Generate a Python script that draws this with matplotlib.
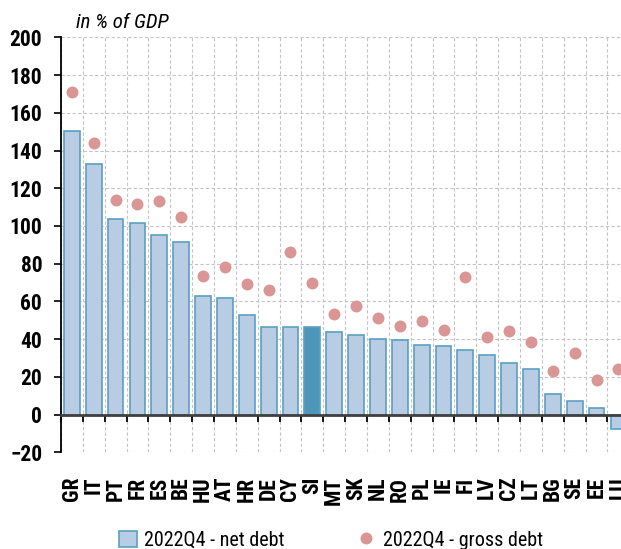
import matplotlib
matplotlib.use("Agg")
import matplotlib.pyplot as plt
from matplotlib.lines import Line2D
from matplotlib.patches import Patch
import numpy as np

countries = ["GR", "IT", "PT", "FR", "ES", "BE", "HU", "AT", "HR", "DE", "CY", "SI", "MT",
             "SK", "NL", "RO", "PL", "IE", "FI", "LV", "CZ", "LT", "BG", "SE", "EE", "LU"]
net_debt = [150.3, 132.7, 103.5, 101.4, 95.4, 91.4, 63.0, 62.0, 53.0, 46.5, 46.5, 46.6, 43.7,
            42.4, 40.0, 39.4, 37.0, 36.5, 34.5, 31.5, 27.5, 24.0, 11.2, 7.0, 3.4, -7.7]
gross_debt = [171.2, 144.1, 113.6, 111.7, 113.2, 104.9, 73.5, 78.5, 69.0, 66.0, 86.2, 70.0, 53.3,
              57.6, 51.0, 47.0, 49.5, 45.0, 73.0, 41.0, 44.5, 38.5, 23.0, 32.7, 18.2, 24.4]
highlight = "SI"

bar_fill = "#b8cce4"
bar_edge = "#5b9fc2"
hl_fill = "#4f97b8"
dot_color = "#d99694"

plt.rcParams["font.family"] = ["Roboto Condensed", "DejaVu Sans"]

fig = plt.figure(figsize=(6.21, 5.49), dpi=100)
ax = fig.add_axes([0.0982, 0.176, 1.0 - 0.0982, 0.756])

x = np.arange(len(countries))
fills = [hl_fill if c == highlight else bar_fill for c in countries]
ax.bar(x, net_debt, width=0.72, color=fills, edgecolor=bar_edge, linewidth=1.2, zorder=3)
ax.plot(x, gross_debt, "o", color=dot_color, markersize=8.6, markeredgewidth=0, zorder=4)

# x axis sits on zero, with small ticks between countries
ax.spines["bottom"].set_position(("data", 0))
ax.spines["bottom"].set_color("#404040")
ax.spines["bottom"].set_linewidth(2)
ax.spines["bottom"].set_zorder(5)
ax.set_xticks(np.arange(-0.5, len(countries), 1))
ax.tick_params(axis="x", length=5, width=1.3, color="black", labelbottom=False)

# country names below the plot area
names_axis = ax.secondary_xaxis("bottom")
names_axis.spines["bottom"].set_visible(False)
names_axis.set_xticks(x)
names_axis.set_xticklabels(countries, rotation=90, fontsize=15.5, fontweight="bold")
names_axis.tick_params(length=0, pad=17.5)

ax.set_yticks(np.arange(-20, 201, 20))
ax.tick_params(axis="y", length=5, width=1.2, labelsize=15.5, pad=8.5)
for lab in ax.get_yticklabels():
    lab.set_fontweight("bold")

ax.set_xlim(-0.5, 25.12)
ax.set_ylim(-20, 200)

ax.grid(True, axis="both", color="#c4c4c4", linestyle=(0, (3, 2)), linewidth=0.8, zorder=0)

for side in ["top", "right"]:
    ax.spines[side].set_visible(False)
ax.spines["left"].set_linewidth(1.3)

ax.text(0.026, 1.012, "in % of GDP", transform=ax.transAxes, fontsize=15,
        fontstyle="italic", ha="left", va="bottom")

handles = [
    Patch(facecolor=bar_fill, edgecolor=bar_edge, linewidth=1.2, label="2022Q4 - net debt"),
    Line2D([], [], marker="o", linestyle="none", color=dot_color, markersize=8.6,
           markeredgewidth=0, label="2022Q4 - gross debt"),
]
fig.legend(handles=handles, loc="center", bbox_to_anchor=(0.533, 0.016), ncol=2,
           frameon=False, fontsize=14.5, handlelength=0.9, handleheight=0.9,
           handletextpad=0.35, columnspacing=3.6)

fig.savefig("out.png", dpi=100)
